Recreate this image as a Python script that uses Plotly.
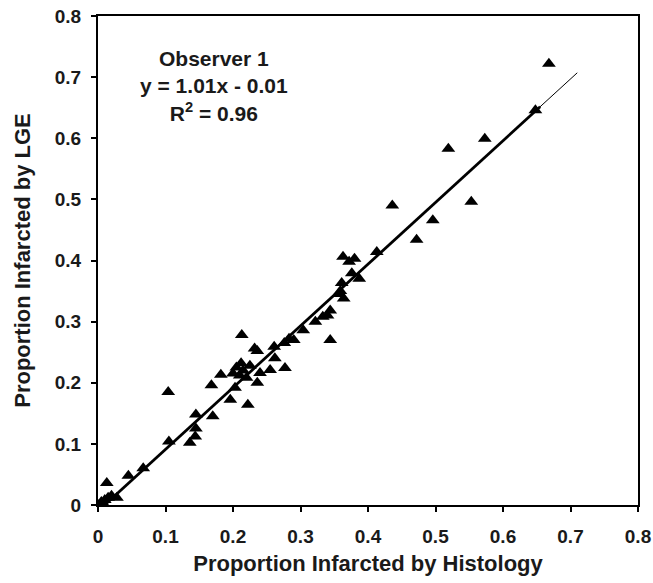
import plotly.graph_objects as go

# Data
histology = [0.000, 0.005, 0.010, 0.015, 0.020, 0.028, 0.008, 0.013,
             0.045, 0.067, 0.104, 0.105,
             0.136, 0.144, 0.145, 0.145, 0.170,
             0.168, 0.182, 0.196, 0.203, 0.222,
             0.213, 0.232, 0.236,
             0.200, 0.205, 0.210, 0.215, 0.220, 0.225, 0.212,
             0.236, 0.240, 0.255, 0.262, 0.277,
             0.261, 0.276, 0.283, 0.290, 0.304, 0.344,
             0.322, 0.333, 0.344, 0.340,
             0.359, 0.364, 0.361, 0.357,
             0.376, 0.387, 0.363, 0.372, 0.380, 0.413,
             0.436, 0.472, 0.496, 0.519, 0.553, 0.573, 0.648, 0.668]
lge = [0.000, 0.005, 0.008, 0.012, 0.015, 0.012, 0.002, 0.036,
       0.048, 0.060, 0.185, 0.104,
       0.102, 0.112, 0.125, 0.148, 0.145,
       0.196, 0.213, 0.172, 0.192, 0.164,
       0.278, 0.256, 0.252,
       0.215, 0.225, 0.212, 0.220, 0.208, 0.228, 0.232,
       0.200, 0.216, 0.221, 0.240, 0.224,
       0.259, 0.265, 0.272, 0.270, 0.286, 0.270,
       0.300, 0.308, 0.318, 0.310,
       0.350, 0.338, 0.363, 0.345,
       0.379, 0.370, 0.406, 0.398, 0.403, 0.414,
       0.490, 0.434, 0.466, 0.583, 0.496, 0.599, 0.646, 0.722]

slope = 1.01
intercept = -0.01
fit_start = 0.0
fit_thick_end = 0.655
fit_end = 0.71

tick_vals = [0, 0.1, 0.2, 0.3, 0.4, 0.5, 0.6, 0.7, 0.8]
tick_text = ["0", "0.1", "0.2", "0.3", "0.4", "0.5", "0.6", "0.7", "0.8"]

annotation_lines = ["Observer 1", "y = 1.01x - 0.01", "R<sup>2</sup> = 0.96"]

fig = go.Figure()

# thin extension of the fit line
fig.add_trace(go.Scatter(
    x=[fit_start, fit_end],
    y=[slope * fit_start + intercept, slope * fit_end + intercept],
    mode="lines", line=dict(color="black", width=1), showlegend=False,
    hoverinfo="skip"))
# thick fit line over the data range
fig.add_trace(go.Scatter(
    x=[fit_start, fit_thick_end],
    y=[slope * fit_start + intercept, slope * fit_thick_end + intercept],
    mode="lines", line=dict(color="black", width=2.8), showlegend=False,
    hoverinfo="skip"))

fig.add_trace(go.Scatter(
    x=histology, y=lge, mode="markers",
    marker=dict(symbol="triangle-up", size=12, color="black"),
    showlegend=False))

font_family = "Liberation Sans, Arial, sans-serif"
text_color = "#1a1a1a"

fig.add_annotation(
    x=0.172, y=0.752, xref="x", yref="y", xanchor="center", yanchor="top",
    text="<br>".join(annotation_lines), showarrow=False, align="center",
    font=dict(family=font_family, size=21, color=text_color, weight="bold"))

axis_common = dict(
    range=[0, 0.8], tickvals=tick_vals, ticktext=tick_text,
    showgrid=False, zeroline=False, showline=True, linecolor="black",
    linewidth=2, mirror=True, ticks="outside", ticklen=5, tickwidth=1.5,
    tickcolor="black", automargin=False,
    tickfont=dict(family=font_family, size=19, color=text_color, weight="bold"),
)

fig.update_xaxes(
    **axis_common, ticklabelstandoff=8,
    title=dict(text="Proportion Infarcted by Histology", standoff=10,
               font=dict(family=font_family, size=22, color=text_color, weight="bold")))
fig.update_yaxes(
    **axis_common, ticklabelstandoff=6,
    title=dict(text="Proportion Infarcted by LGE", standoff=18,
               font=dict(family=font_family, size=22, color=text_color, weight="bold")))

fig.update_layout(
    width=653, height=583,
    margin=dict(l=98, r=15, t=16, b=78, autoexpand=False),
    plot_bgcolor="white", paper_bgcolor="white",
)

fig.write_html("out.html", config={"displayModeBar": False},
               post_script="document.body.style.margin='0';")
